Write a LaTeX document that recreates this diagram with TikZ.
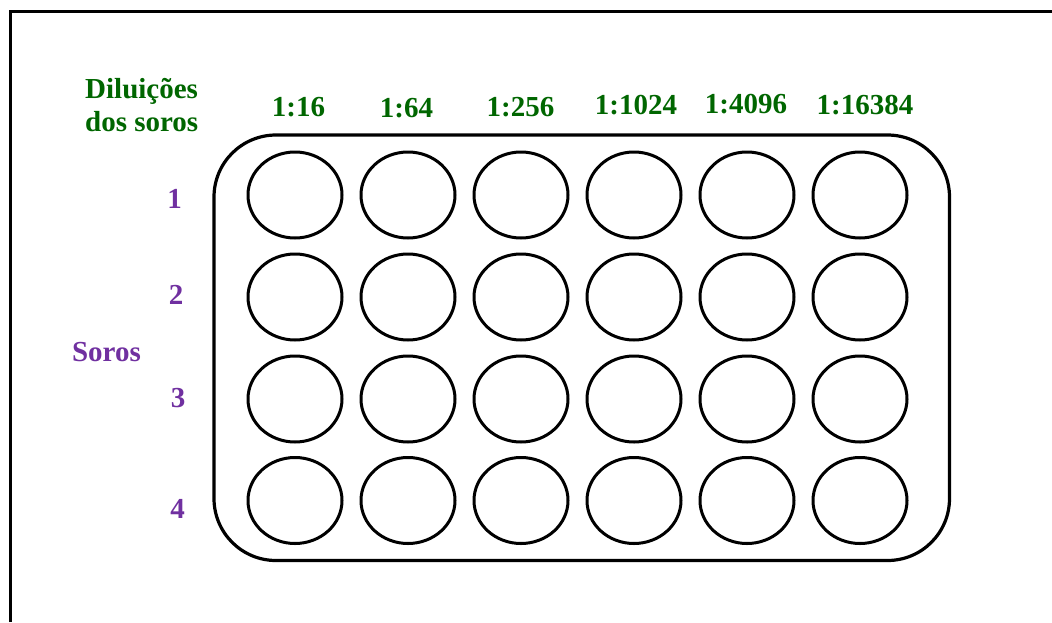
\documentclass[tikz,border=0pt]{standalone}
\usepackage{fontspec}
\setmainfont{Liberation Serif}
\usetikzlibrary{shapes.geometric}
\definecolor{dilgreen}{RGB}{0,102,0}
\definecolor{soropurple}{RGB}{112,48,160}
\tikzset{
  lbl/.style={inner sep=0pt, anchor=base, font=\fontsize{29}{33}\selectfont\bfseries},
  dil/.style={lbl, text=dilgreen},
  sor/.style={lbl, text=soropurple},
  well/.style={ellipse, draw=black, line width=3pt, minimum width=94pt, minimum height=86pt, inner sep=0pt},
  plate/.style={draw=black, line width=3.2pt, rounded corners=62pt},
  frame/.style={draw=black, line width=3pt}
}
\begin{document}
\begin{tikzpicture}[x=1pt,y=-1pt]
\useasboundingbox (0,0) rectangle (1052,622);
% frame (top and left edges)
\coordinate (fb) at (10,622);
\coordinate (fc) at (10,11);
\coordinate (fr) at (1052,11);
\draw[frame] (fb) -- (fc) -- (fr);
% plate
\coordinate (p1) at (214,135);
\coordinate (p2) at (949.5,560.5);
\draw[plate] (p1) rectangle (p2);
% wells
\foreach \c/\x in {1/295,2/408,3/521,4/634,5/747,6/860}{
  \foreach \r/\y in {1/195,2/297,3/399,4/500.5}{
    \node[well] (w\r\c) at (\x,\y) {};
  }
}
% dilution labels
\node[dil] (d1) at (298.5,116) {1:16};
\node[dil] (d2) at (406.5,117) {1:64};
\node[dil] (d3) at (520.5,116) {1:256};
\node[dil] (d4) at (636,114) {1:1024};
\node[dil] (d5) at (746,113) {1:4096};
\node[dil] (d6) at (865,114) {1:16384};
\node[dil, anchor=base west, align=left] (dt) at (85,131) {Diluições\\dos soros};
% serum labels
\node[sor] (s1) at (174.5,208) {1};
\node[sor] (s2) at (176,304) {2};
\node[sor] (s3) at (178,407) {3};
\node[sor] (s4) at (177.5,518) {4};
\node[sor] (st) at (106.5,361) {Soros};
\end{tikzpicture}
\end{document}
